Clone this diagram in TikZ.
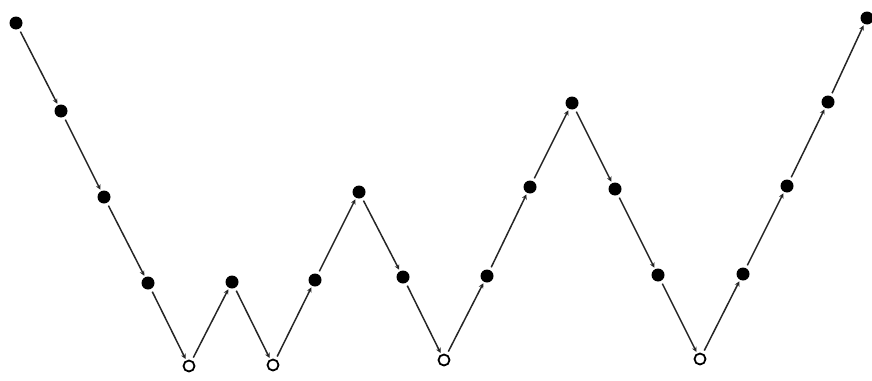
\documentclass[tikz,border=0pt]{standalone}
\usetikzlibrary{arrows.meta}
\begin{document}
\begin{tikzpicture}[x=1pt,y=-1pt,
  full/.style={circle,fill=black,inner sep=0pt,minimum size=13pt},
  hollow/.style={circle,draw=black,line width=1.8pt,fill=white,inner sep=0pt,minimum size=11pt},
  edge/.style={draw=black!85,line width=1.5pt,-{Stealth[length=5pt,width=5pt]},shorten <=3pt,shorten >=1.5pt}]
\useasboundingbox (0,0) rectangle (872,380);
\foreach \i/\x/\y/\k in {0/16/23/full,1/61/111/full,2/104/197/full,3/148/283/full,4/189/366/hollow,
  5/232/282/full,6/273/365/hollow,7/315/280/full,8/359/192/full,9/403/277/full,10/444/360/hollow,
  11/487/276/full,12/530/187/full,13/572/103/full,14/615/189/full,15/658/275/full,16/700/359/hollow,
  17/743/274/full,18/787/186/full,19/828/102/full,20/867/18/full}{
  \node[\k] (p\i) at (\x,\y) {};
}
\foreach \a/\b in {0/1,1/2,2/3,3/4,4/5,5/6,6/7,7/8,8/9,9/10,10/11,11/12,12/13,13/14,14/15,15/16,16/17,17/18,18/19,19/20}{
  \draw[edge] (p\a) -- (p\b);
}
\end{tikzpicture}
\end{document}
